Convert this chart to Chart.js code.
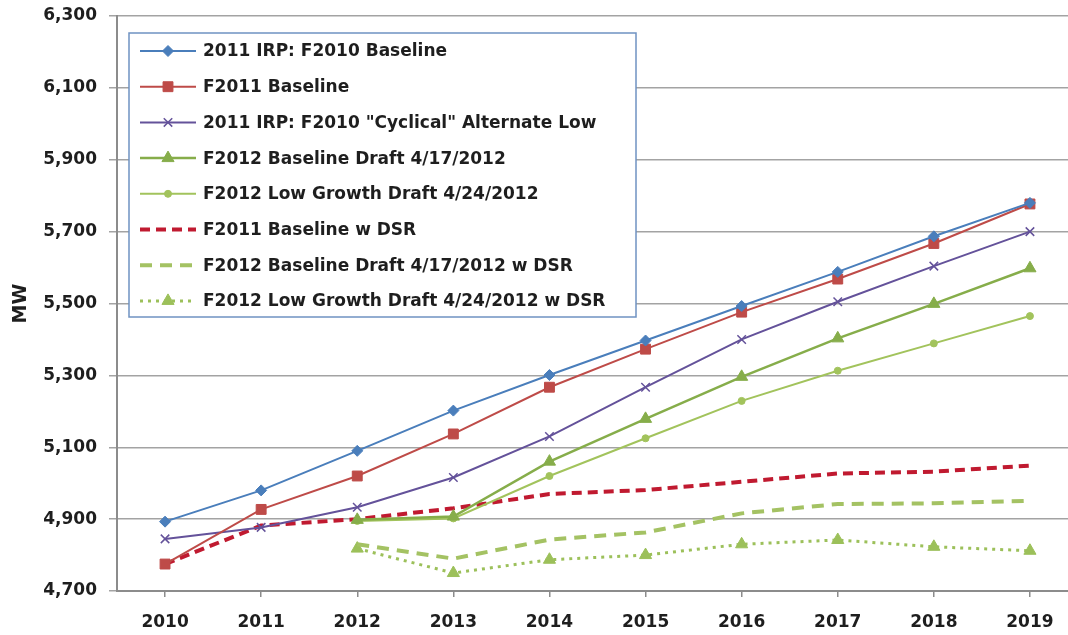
<!DOCTYPE html>
<html>
<head>
<meta charset="utf-8">
<script src="https://cdn.jsdelivr.net/npm/chart.js@4.4.1/dist/chart.umd.min.js"></script>
<style>
  html, body { margin: 0; padding: 0; background: #fff; overflow: hidden; }
  /* the original plot runs a little past the right edge of the picture */
  #wrap { width: 1086px; height: 635px; overflow: hidden; }
</style>
</head>
<body>
<div id="wrap"><canvas id="chart" width="1086" height="635"></canvas></div>
<script>
// values, MW
const YEARS = ['2010', '2011', '2012', '2013', '2014', '2015', '2016', '2017', '2018', '2019'];

const IRP_F2010_BASELINE = [4893, 4980, 5090, 5202, 5301, 5397, 5493, 5588, 5687, 5780];
const F2011_BASELINE = [4775, 4927, 5020, 5137, 5267, 5373, 5476, 5568, 5667, 5777];
const IRP_CYCLICAL_LOW = [4845, 4877, 4933, 5016, 5130, 5267, 5400, 5505, 5604, 5700];
const F2012_BASELINE = [null, null, 4898, 4907, 5060, 5179, 5296, 5403, 5499, 5598];
const F2012_LOW_GROWTH = [null, null, 4895, 4902, 5020, 5125, 5229, 5313, 5389, 5465];
const F2011_BASELINE_DSR = [4775, 4882, 4900, 4930, 4970, 4981, 5004, 5027, 5032, 5049];
const F2012_BASELINE_DSR = [null, null, 4830, 4790, 4843, 4863, 4916, 4942, 4944, 4951];
const F2012_LOW_GROWTH_DSR = [null, null, 4818, 4750, 4787, 4800, 4830, 4842, 4823, 4812];

const Y_MIN = 4700;
const Y_MAX = 6300;
const Y_STEP = 200;

const FONT = '"DejaVu Sans", "Liberation Sans", sans-serif';
const TEXT = '#1e1e1e';

function series(label, data, color, extra) {
    return Object.assign({
        label: label,
        data: data,
        borderColor: color,
        backgroundColor: color,
        pointBackgroundColor: color,
        pointBorderColor: color,
        pointBorderWidth: 1,
        borderWidth: 2,
        tension: 0,
        fill: false,
        spanGaps: false
    }, extra);
}

// legend drawn as a framed box inside the plot, like the original
const boxLegend = {
    id: 'boxLegend',
    afterDatasetsDraw(chart) {
        const ctx = chart.ctx;
        const area = chart.chartArea;
        const x0 = area.left + 12;
        const y0 = area.top + 17;
        const w = 507;
        const h = 284;
        const rowH = 35.7;
        ctx.save();
        ctx.fillStyle = '#ffffff';
        ctx.fillRect(x0, y0, w, h);
        ctx.strokeStyle = '#6f92c2';
        ctx.lineWidth = 1.5;
        ctx.strokeRect(x0, y0, w, h);
        ctx.font = 'bold 17px ' + FONT;
        ctx.textBaseline = 'middle';
        chart.data.datasets.forEach(function(ds, i) {
            const y = y0 + 18 + i * rowH;
            ctx.setLineDash(ds.borderDash || []);
            ctx.lineCap = ds.borderCapStyle || 'butt';
            ctx.strokeStyle = ds.borderColor;
            ctx.lineWidth = ds.borderWidth;
            ctx.beginPath();
            ctx.moveTo(x0 + 11, y);
            ctx.lineTo(x0 + 67, y);
            ctx.stroke();
            ctx.setLineDash([]);
            if (ds.pointRadius > 0 && Chart.helpers && Chart.helpers.drawPoint) {
                ctx.fillStyle = ds.pointBackgroundColor;
                ctx.strokeStyle = ds.pointBorderColor;
                ctx.lineWidth = ds.pointBorderWidth;
                Chart.helpers.drawPoint(ctx, {
                    pointStyle: ds.pointStyle,
                    radius: ds.pointRadius,
                    rotation: 0,
                    borderWidth: ds.pointBorderWidth
                }, x0 + 39, y);
            }
            ctx.fillStyle = TEXT;
            ctx.fillText(ds.label, x0 + 74, y + 1);
        });
        ctx.restore();
    }
};

const CTX = document.getElementById('chart').getContext('2d');
const CHART = new Chart(CTX, {
    type: 'line',
    data: {
        labels: YEARS,
        datasets: [
            series('2011 IRP: F2010 Baseline', IRP_F2010_BASELINE, '#4a7ebb',
                { pointStyle: 'rectRot', pointRadius: 5.5 }),
            series('F2011 Baseline', F2011_BASELINE, '#be4b48',
                { pointStyle: 'rect', pointRadius: 7 }),
            series('2011 IRP: F2010 "Cyclical" Alternate Low', IRP_CYCLICAL_LOW, '#64529a',
                { pointStyle: 'crossRot', pointRadius: 6, pointBorderWidth: 1.5 }),
            series('F2012 Baseline Draft 4/17/2012', F2012_BASELINE, '#86ad4a',
                { pointStyle: 'triangle', pointRadius: 7, borderWidth: 2.5 }),
            series('F2012 Low Growth Draft 4/24/2012', F2012_LOW_GROWTH, '#a2c35c',
                { pointStyle: 'circle', pointRadius: 3.5 }),
            series('F2011 Baseline w DSR', F2011_BASELINE_DSR, '#c01a30',
                { pointRadius: 0, borderWidth: 4, borderDash: [10, 6] }),
            series('F2012 Baseline Draft 4/17/2012 w DSR', F2012_BASELINE_DSR, '#a4c263',
                { pointRadius: 0, borderWidth: 4, borderDash: [12, 8] }),
            series('F2012 Low Growth Draft 4/24/2012 w DSR', F2012_LOW_GROWTH_DSR, '#9cc05a',
                { pointStyle: 'triangle', pointRadius: 7, borderWidth: 3, borderDash: [3, 5] })
        ]
    },
    options: {
        responsive: false,
        animation: false,
        layout: { padding: { top: 16, right: 0, bottom: 0, left: 0 } },
        plugins: {
            legend: { display: false },
            tooltip: { enabled: false }
        },
        scales: {
            x: {
                offset: true,
                grid: {
                    drawOnChartArea: false,
                    drawTicks: true,
                    tickLength: 6,
                    color: '#8c8c8c',
                    lineWidth: 1.5
                },
                border: { display: true, color: '#8c8c8c', width: 2 },
                ticks: {
                    color: TEXT,
                    padding: 15,
                    maxRotation: 0,
                    font: { family: FONT, size: 17, weight: 'bold' }
                },
                afterFit(scale) {
                    scale.height = 44;
                    scale.paddingLeft = 0;
                    scale.paddingRight = 0;
                }
            },
            y: {
                min: Y_MIN,
                max: Y_MAX,
                grid: {
                    color: '#a3a3a3',
                    lineWidth: 1.5,
                    tickLength: 8
                },
                border: { display: true, color: '#8c8c8c', width: 2 },
                ticks: {
                    stepSize: Y_STEP,
                    color: TEXT,
                    padding: 12,
                    font: { family: FONT, size: 17, weight: 'bold' },
                    callback: function(v) { return Number(v).toLocaleString('en-US'); }
                },
                title: {
                    display: true,
                    text: 'MW',
                    color: TEXT,
                    padding: { top: 10, bottom: 0 },
                    font: { family: FONT, size: 19, weight: 'bold' }
                },
                afterFit(scale) {
                    scale.width = 117;
                    scale.paddingTop = 0;
                    scale.paddingBottom = 0;
                }
            }
        }
    },
    plugins: [boxLegend]
});
</script>
</body>
</html>
